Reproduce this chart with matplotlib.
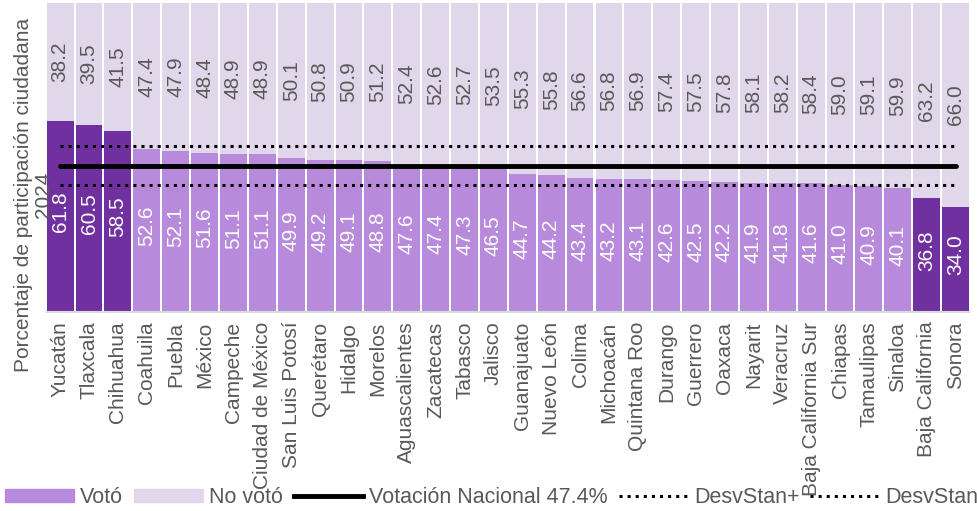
import matplotlib.pyplot as plt
from matplotlib.lines import Line2D
from matplotlib.patches import Patch

plt.rcParams['font.family'] = ['Liberation Sans', 'DejaVu Sans']

estados = ['Yucatán', 'Tlaxcala', 'Chihuahua', 'Coahuila', 'Puebla', 'México',
           'Campeche', 'Ciudad de México', 'San Luis Potosí', 'Querétaro',
           'Hidalgo', 'Morelos', 'Aguascalientes', 'Zacatecas', 'Tabasco',
           'Jalisco', 'Guanajuato', 'Nuevo León', 'Colima', 'Michoacán',
           'Quintana Roo', 'Durango', 'Guerrero', 'Oaxaca', 'Nayarit',
           'Veracruz', 'Baja California Sur', 'Chiapas', 'Tamaulipas',
           'Sinaloa', 'Baja California', 'Sonora']
voto = [61.8, 60.5, 58.5, 52.6, 52.1, 51.6, 51.1, 51.1, 49.9, 49.2, 49.1, 48.8,
        47.6, 47.4, 47.3, 46.5, 44.7, 44.2, 43.4, 43.2, 43.1, 42.6, 42.5, 42.2,
        41.9, 41.8, 41.6, 41.0, 40.9, 40.1, 36.8, 34.0]
no_voto = [38.2, 39.5, 41.5, 47.4, 47.9, 48.4, 48.9, 48.9, 50.1, 50.8, 50.9,
           51.2, 52.4, 52.6, 52.7, 53.5, 55.3, 55.8, 56.6, 56.8, 56.9, 57.4,
           57.5, 57.8, 58.1, 58.2, 58.4, 59.0, 59.1, 59.9, 63.2, 66.0]
destacados = ['Yucatán', 'Tlaxcala', 'Chihuahua', 'Baja California', 'Sonora']
nacional = 47.4
desv_mas = 53.8
desv_menos = 41.0

OSCURO = '#7030A0'
CLARO = '#B78ADB'
GRIS = '#E0D7EA'
TEXTO = '#595959'

fig = plt.figure(figsize=(9.77, 5.11), dpi=100)
ax = fig.add_axes([0.0478, 0.3894, 0.944, 0.6047])

x = list(range(len(estados)))
colores = [OSCURO if e in destacados else CLARO for e in estados]
ax.bar(x, voto, width=0.93, color=colores)
ax.bar(x, no_voto, bottom=voto, width=0.93, color=GRIS)

for i in x:
    ax.text(i, voto[i] / 2 + 1.5, f'{voto[i]:.1f}', rotation=90, ha='center',
            va='center', color='white', fontsize=15)
    ax.text(i, voto[i] + no_voto[i] / 2, f'{no_voto[i]:.1f}', rotation=90,
            ha='center', va='center', color=TEXTO, fontsize=15)

ax.plot([x[0], x[-1]], [nacional, nacional], color='black', lw=3.5,
        solid_capstyle='round')
ax.plot([x[0], x[-1]], [desv_mas, desv_mas], color='black', lw=2.2, ls=':')
ax.plot([x[0], x[-1]], [desv_menos, desv_menos], color='black', lw=2.2, ls=':')

ax.set_xlim(-0.465, len(estados) - 0.535)
ax.set_ylim(0, 100)
ax.set_xticks(x)
ax.set_xticklabels(estados, rotation=90, color=TEXTO, fontsize=15)
ax.tick_params(axis='x', length=0, pad=7)
ax.set_yticks([])
for s in ['top', 'right', 'left']:
    ax.spines[s].set_visible(False)
ax.spines['bottom'].set_color('#D9D9D9')
ax.spines['bottom'].set_linewidth(1.5)

fig.text(0.034, 1 - 195 / 511,
         'Porcentaje de participación ciudadana\n2024',
         rotation=90, ha='center', va='center', multialignment='center',
         color=TEXTO, fontsize=15, linespacing=1.05)

handles = [
    Patch(color=CLARO),
    Patch(color=GRIS),
    Line2D([], [], color='black', lw=3.5),
    Line2D([], [], color='black', lw=2.2, ls=':'),
    Line2D([], [], color='black', lw=2.2, ls=':'),
]
labels = ['Votó', 'No votó', f'Votación Nacional {nacional}%',
          'DesvStan+', 'DesvStan-']
leg = fig.legend(handles, labels, loc='lower left', ncol=5, frameon=False,
                 bbox_to_anchor=(0.005, 0.006), fontsize=15.5,
                 handlelength=3.2, handleheight=0.55, handletextpad=0.3,
                 columnspacing=0.5, borderaxespad=0, borderpad=0)
for t in leg.get_texts():
    t.set_color(TEXTO)

fig.savefig('out.png', dpi=100)
